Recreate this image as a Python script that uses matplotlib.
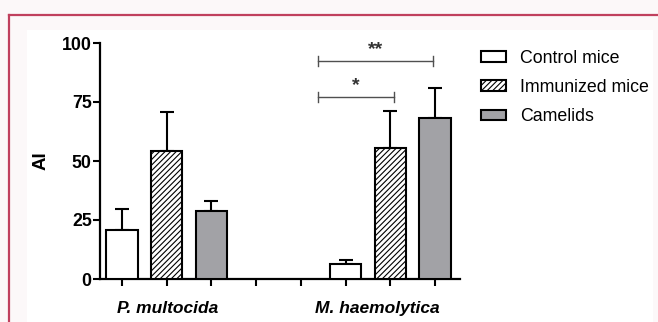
import numpy as np
import matplotlib.pyplot as plt
from matplotlib.lines import Line2D
from matplotlib.patches import Rectangle, Patch

plt.rcParams['font.family'] = ['Liberation Sans', 'DejaVu Sans']
plt.rcParams['hatch.linewidth'] = 0.8

# Data
groups = ['P. multocida', 'M. haemolytica']
series = ['Control mice', 'Immunized mice', 'Camelids']
pm_mean = [20.8, 54.2, 28.8]
pm_err = [8.9, 16.6, 4.2]
mh_mean = [6.4, 55.6, 68.1]
mh_err = [1.6, 15.6, 12.7]
sig_labels = ['**', '*']

# Appearance
face = ['white', 'white', '#a2a2a6']
hatches = [None, '//////', None]
pos_pm = [0, 1, 2]
pos_mh = [5, 6, 7]
W, H = 658, 322

fig = plt.figure(figsize=(W / 100, H / 100), dpi=100)
fig.patch.set_facecolor('#fcf8f9')
bg = fig.add_axes([27 / W, 0, (653 - 27) / W, 1 - 30 / H], zorder=-5)
bg.set_axis_off()
bg.add_patch(Rectangle((0, 0), 1, 1, transform=bg.transAxes, facecolor='white',
                       edgecolor='none'))
crimson = '#c0405e'
fig.add_artist(Line2D([9 / W, 1], [1 - 15 / H, 1 - 15 / H], color=crimson, lw=1.6))
fig.add_artist(Line2D([9 / W, 9 / W], [0, 1 - 15 / H], color=crimson, lw=1.6))

ax = fig.add_axes([100 / W, 1 - 279 / H, (460 - 100) / W, (279 - 43) / H], zorder=2)
ax.patch.set_alpha(0)

for i in range(3):
    xs = [pos_pm[i], pos_mh[i]]
    ys = [pm_mean[i], mh_mean[i]]
    es = [pm_err[i], mh_err[i]]
    ax.errorbar(xs, ys, yerr=[[0, 0], es], fmt='none', ecolor='black',
                elinewidth=1.5, capsize=5, capthick=1.5, zorder=2)
    ax.bar(xs, ys, width=0.7, color=face[i], edgecolor='black', linewidth=1.5,
           hatch=hatches[i], zorder=3)

# significance brackets
bx = [4.38, 4.38]
ex = [6.96, 6.08]
by = [92.4, 77.2]
for x0, x1, y, lab in zip(bx, ex, by, sig_labels):
    ax.plot([x0, x1], [y, y], color='#505050', lw=1, clip_on=False)
    ax.plot([x0, x0], [y - 2, y + 2], color='#505050', lw=1, clip_on=False)
    ax.plot([x1, x1], [y - 2, y + 2], color='#505050', lw=1, clip_on=False)
    ax.text((x0 + x1) / 2, y + 1, lab, ha='center', va='bottom',
            fontsize=14, fontweight='bold', color='#333333')

ax.set_xlim(-0.49, 7.56)
ax.set_ylim(0, 100)
ax.set_yticks([0, 25, 50, 75, 100])
ax.set_xticks(range(8))
ax.set_xticklabels([])
ax.xaxis.remove_overlapping_locs = False
ax.set_xticks([1.03, 5.72], groups, minor=True)
ax.tick_params(axis='x', which='minor', length=0, pad=16)
for t in ax.get_xticklabels(minor=True):
    t.set_fontsize(12.5)
    t.set_fontweight('bold')
    t.set_fontstyle('italic')
ax.tick_params(axis='both', which='major', width=1.5, length=5, labelsize=12.8)
ax.tick_params(axis='y', pad=1)
for t in ax.get_yticklabels():
    t.set_fontweight('bold')
ax.set_ylabel('AI', fontsize=13.5, fontweight='bold', labelpad=9)
for s in ['top', 'right']:
    ax.spines[s].set_visible(False)
for s in ['left', 'bottom']:
    ax.spines[s].set_linewidth(1.6)

handles = [Patch(facecolor=face[i], edgecolor='black', linewidth=1.5, hatch=hatches[i])
           for i in range(3)]
fig.legend(handles, series, loc='upper left', bbox_to_anchor=(481 / W, 1 - 50 / H),
           frameon=False, fontsize=12.8, handlelength=1.4, handleheight=0.55,
           handletextpad=0.8, labelspacing=0.68, borderpad=0, borderaxespad=0)

fig.savefig('out.png', dpi=100, facecolor=fig.get_facecolor())
